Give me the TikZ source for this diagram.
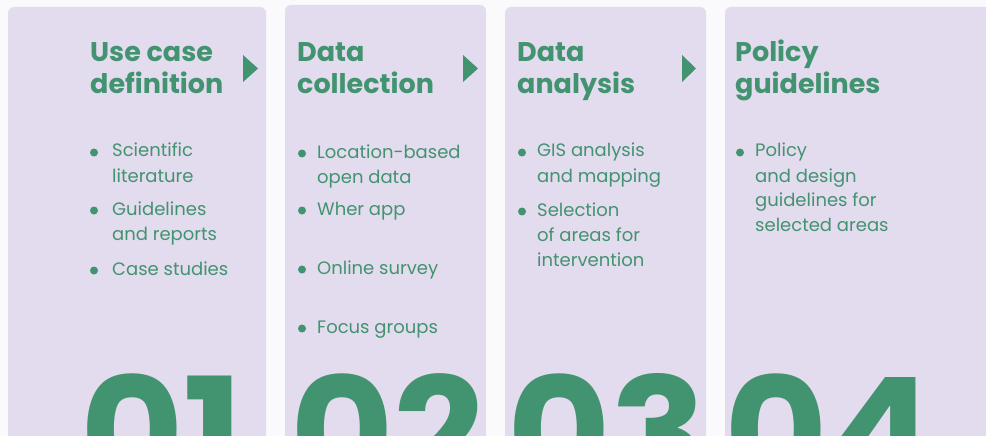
\documentclass[tikz,border=0pt]{standalone}
\usepackage{fontspec}
\setmainfont{Poppins}
\usepackage{tikz}

\newcommand{\stack}[1]{\begin{tabular}[t]{@{}l@{}}#1\end{tabular}}

\begin{document}
\begin{tikzpicture}
		[x=1pt,y=-1pt,
		%Styles
		panel/.style={fill=panelbg,rounded corners=6pt},
		title text/.style={anchor=base west,inner sep=0pt,text=stepgreen,font=\fontsize{27}{32}\selectfont\bfseries},
		item text/.style={anchor=base west,inner sep=0pt,text=stepgreen,font=\fontsize{18}{25}\selectfont},
		dot/.style={circle,inner sep=0pt,minimum size=8pt,fill=stepgreen},
		big number/.style={anchor=base west,inner sep=0pt,text=stepgreen,transform shape,xscale=1.06,font=\fontsize{150}{150}\selectfont\bfseries},
		pointer/.style={fill=stepgreen}
		]
		
		%Colors
		\definecolor{pagebg}{RGB}{250,250,252}
		\definecolor{panelbg}{RGB}{227,219,238}
		\definecolor{stepgreen}{RGB}{66,147,112}
		
		\useasboundingbox (0,0) rectangle (986,436);
		\clip (0,0) rectangle (986,436);
		\fill[pagebg] (0,0) rectangle (986,436);
		
		%The panels
		\fill[panel] (8,7) rectangle (266,470);
		\fill[panel] (285,5) rectangle (486,470);
		\fill[panel] (505,7) rectangle (706,470);
		\fill[panel] (725,7) rectangle (1000,470);
		
		%Titles
		\node[title text] (T1) at (90,62) {\stack{Use case\\definition}};
		\node[title text] (T2) at (297,62) {\stack{Data\\collection}};
		\node[title text] (T3) at (517,62) {\stack{Data\\analysis}};
		\node[title text] (T4) at (735,62) {\stack{Policy\\guidelines}};
		
		\fill[pointer] (243,55) -- (258,68.5) -- (243,82) -- cycle;
		\fill[pointer] (463,55) -- (478,68.5) -- (463,82) -- cycle;
		\fill[pointer] (682,55) -- (696,68.5) -- (682,82) -- cycle;
		
		%Step 1
		\node[dot] (D11) at (94,152.5) {};
		\node[item text] (I11) at (112,157) {\stack{Scientific\\literature}};
		\node[dot] (D12) at (94,210.5) {};
		\node[item text] (I12) at (112,215) {\stack{Guidelines\\and reports}};
		\node[dot] (D13) at (94,270.5) {};
		\node[item text] (I13) at (112,275) {Case studies};
		
		%Step 2
		\node[dot] (D21) at (302,153.5) {};
		\node[item text] (I21) at (317,158) {\stack{Location-based\\open data}};
		\node[dot] (D22) at (302,210.5) {};
		\node[item text] (I22) at (317,215) {Wher app};
		\node[dot] (D23) at (302,269.5) {};
		\node[item text] (I23) at (317,274) {Online survey};
		\node[dot] (D24) at (302,328.5) {};
		\node[item text] (I24) at (317,333) {Focus groups};
		
		%Step 3
		\node[dot] (D31) at (522,152.5) {};
		\node[item text] (I31) at (537,157) {\stack{GIS analysis\\and mapping}};
		\node[dot] (D32) at (522,211.5) {};
		\node[item text] (I32) at (537,216) {\stack{Selection\\of areas for\\intervention}};
		
		%Step 4
		\node[dot] (D41) at (740,152.5) {};
		\node[item text] (I41) at (755,157) {\stack{Policy\\and design\\guidelines for\\selected areas}};
		
		%Numbers
		\node[big number] (N1) at (80,485) {01};
		\node[big number] (N2) at (290,485) {02};
		\node[big number] (N3) at (507,485) {03};
		\node[big number] (N4) at (724,485) {04};
	\end{tikzpicture}
\end{document}
